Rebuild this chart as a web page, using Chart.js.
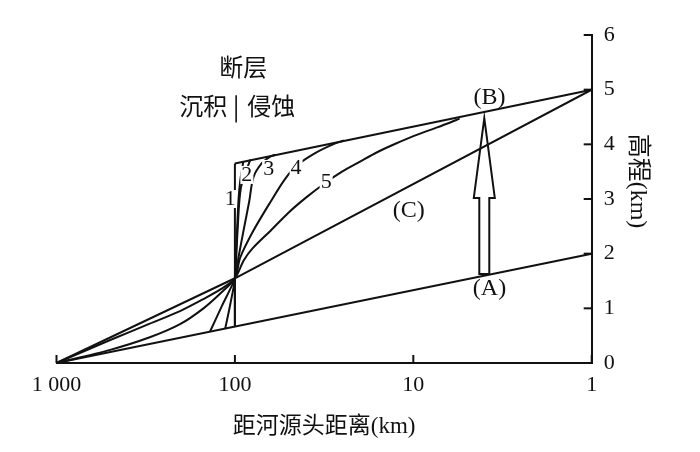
<!DOCTYPE html>
<html>
<head>
<meta charset="utf-8">
<script src="https://cdn.jsdelivr.net/npm/chart.js@4.4.1/dist/chart.umd.min.js"></script>
<style>
  html, body { margin: 0; padding: 0; background: #fff; }
  #wrap { width: 700px; height: 452px; }
</style>
</head>
<body>
<div id="wrap"><canvas id="profileChart"></canvas></div>
<script>
// axis ticks
const xTicks = [1, 10, 100, 1000];
const xTickLabels = ["1", "10", "100", "1 000"];
const yTicks = [0, 1, 2, 3, 4, 5, 6];

// distance from source (km) / elevation (km)
const lineADist = [1000, 1];
const lineAElev = [0, 2];
const lineBDist = [100, 1];
const lineBElev = [3.65, 5];
const lineCDist = [1000, 100, 1];
const lineCElev = [0, 1.55, 5];
const faultDist = [100, 100];
const faultElev = [0.67, 3.65];

const curve1Dist = [100, 100, 97.7, 95.5, 93.3, 89.8];
const curve1Elev = [0.67, 1.55, 2.3, 2.97, 3.34, 3.68];
const curve2Dist = [113.3, 106.2, 100, 96.6, 92.5, 82];
const curve2Elev = [0.63, 1.07, 1.55, 2.42, 3.21, 3.72];
const curve3Dist = [137.8, 118.4, 100, 95.5, 89.5, 83.2, 78.7, 70.8, 63.1, 59.4];
const curve3Elev = [0.577, 1.04, 1.55, 1.93, 2.42, 2.95, 3.40, 3.65, 3.78, 3.81];
const curve4Dist = [1000, 500, 300, 203, 150, 120, 100, 93.3, 79.4, 63.1, 52.5, 44.7, 35.5, 28.2, 24.5];
const curve4Elev = [0, 0.24, 0.47, 0.71, 1.0, 1.28, 1.55, 1.93, 2.40, 2.95, 3.36, 3.62, 3.84, 4.00, 4.07];
const curve5Dist = [1000, 500, 300, 203, 150, 120, 100, 89.1, 79.4, 63.1, 50.1, 39.8, 31.6, 25.1, 20, 15.85, 12.6, 10, 7.94, 6.31, 5.5];
const curve5Elev = [0, 0.42, 0.72, 0.95, 1.17, 1.35, 1.55, 1.88, 2.10, 2.42, 2.75, 3.03, 3.28, 3.50, 3.68, 3.86, 4.01, 4.15, 4.27, 4.39, 4.47];

// uplift arrow (A) -> (B)
const arrowDist = 4.0;
const arrowBase = 1.63;
const arrowHead = 3.02;
const arrowTip = 4.48;

const serif = "'Liberation Serif', 'Noto Sans CJK SC'";
const cjk = "'Noto Sans CJK SC'";

const labels = [
  { text: "断层", d: 89.8, e: 5.41, align: "center", font: "24px " + cjk },
  { text: "沉积", d: 110.5, e: 4.70, align: "right", font: "24px " + cjk },
  { text: "侵蚀", d: 85.4, e: 4.70, align: "left", font: "24px " + cjk },
  { text: "(B)", d: 3.74, e: 4.86, align: "center", font: "24px " + serif },
  { text: "(A)", d: 3.74, e: 1.35, align: "center", font: "24px " + serif },
  { text: "(C)", d: 10.6, e: 2.78, align: "center", font: "24px " + serif },
  { text: "1", d: 106.2, e: 3.0, align: "center", font: "22px " + serif, bg: true },
  { text: "2", d: 85.7, e: 3.44, align: "center", font: "22px " + serif, bg: true },
  { text: "3", d: 64.7, e: 3.55, align: "center", font: "22px " + serif, bg: true },
  { text: "4", d: 45.4, e: 3.57, align: "center", font: "22px " + serif, bg: true },
  { text: "5", d: 30.8, e: 3.31, align: "center", font: "22px " + serif, bg: true }
];
const barDist = 98.4;
const barElev = [4.90, 4.40];

function pts(ds, es) {
    return ds.map((d, i) => ({ x: d, y: es[i] }));
}

function line(ds, es, tension) {
    return {
        data: pts(ds, es),
        borderColor: "#111",
        borderWidth: 2,
        pointRadius: 0,
        tension: tension || 0,
        fill: false
    };
}

const annotate = {
    id: "annotate",
    afterDatasetsDraw(chart) {
        const { ctx, chartArea, scales: { x, y } } = chart;
        ctx.save();
        ctx.strokeStyle = "#111";
        ctx.fillStyle = "#111";
        ctx.lineWidth = 2;

        // inward tick marks
        x.ticks.forEach(t => {
            const px = x.getPixelForValue(t.value);
            ctx.beginPath();
            ctx.moveTo(px, chartArea.bottom);
            ctx.lineTo(px, chartArea.bottom - 8);
            ctx.stroke();
        });
        y.ticks.forEach(t => {
            const py = y.getPixelForValue(t.value);
            ctx.beginPath();
            ctx.moveTo(chartArea.right, py);
            ctx.lineTo(chartArea.right - 8, py);
            ctx.stroke();
        });

        // hollow arrow
        const ax = x.getPixelForValue(arrowDist);
        const yb = y.getPixelForValue(arrowBase);
        const yh = y.getPixelForValue(arrowHead);
        const yt = y.getPixelForValue(arrowTip);
        ctx.beginPath();
        ctx.moveTo(ax - 5, yb);
        ctx.lineTo(ax - 5, yh);
        ctx.lineTo(ax - 10.5, yh);
        ctx.lineTo(ax, yt);
        ctx.lineTo(ax + 10.5, yh);
        ctx.lineTo(ax + 5, yh);
        ctx.lineTo(ax + 5, yb);
        ctx.closePath();
        ctx.stroke();

        // bar between 沉积 | 侵蚀
        const bx = x.getPixelForValue(barDist);
        ctx.lineWidth = 1.6;
        ctx.beginPath();
        ctx.moveTo(bx, y.getPixelForValue(barElev[0]));
        ctx.lineTo(bx, y.getPixelForValue(barElev[1]));
        ctx.stroke();

        // text labels
        ctx.textBaseline = "middle";
        labels.forEach(l => {
            const px = x.getPixelForValue(l.d);
            const py = y.getPixelForValue(l.e);
            ctx.font = l.font;
            ctx.textAlign = l.align;
            if (l.bg) {
                const w = ctx.measureText(l.text).width;
                ctx.fillStyle = "#fff";
                ctx.fillRect(px - w / 2 - 1, py - 9, w + 2, 18);
                ctx.fillStyle = "#111";
            }
            ctx.fillText(l.text, px, py);
        });
        ctx.restore();
    }
};

new Chart(document.getElementById("profileChart"), {
    type: "line",
    data: {
        datasets: [
            line(lineADist, lineAElev),
            line(lineBDist, lineBElev),
            line(lineCDist, lineCElev),
            line(faultDist, faultElev),
            line(curve1Dist, curve1Elev, 0.2),
            line(curve2Dist, curve2Elev, 0.3),
            line(curve3Dist, curve3Elev, 0.3),
            line(curve4Dist, curve4Elev, 0.3),
            line(curve5Dist, curve5Elev, 0.3)
        ]
    },
    options: {
        responsive: true,
        maintainAspectRatio: false,
        animation: false,
        layout: { padding: { left: 56.5, top: 35, right: 0, bottom: 0 } },
        plugins: {
            legend: { display: false },
            tooltip: { enabled: false }
        },
        scales: {
            x: {
                type: "logarithmic",
                reverse: true,
                min: 1,
                max: 1000,
                afterBuildTicks: s => { s.ticks = xTicks.map(v => ({ value: v })); },
                afterFit: s => { s.height = 89; },
                grid: { display: false, drawTicks: false },
                border: { display: true, color: "#111", width: 2 },
                ticks: {
                    autoSkip: false,
                    maxRotation: 0,
                    padding: 9,
                    color: "#111",
                    font: { family: serif, size: 22 },
                    callback: (v, i) => xTickLabels[i]
                },
                title: {
                    display: true,
                    text: "距河源头距离(km)",
                    color: "#111",
                    font: { family: serif, size: 23 },
                    padding: { top: 0, bottom: 11 }
                }
            },
            y: {
                type: "linear",
                position: "right",
                min: 0,
                max: 6,
                afterBuildTicks: s => { s.ticks = yTicks.map(v => ({ value: v })); },
                afterFit: s => { s.width = 108.3; },
                grid: { display: false, drawTicks: false },
                border: { display: true, color: "#111", width: 2 },
                ticks: {
                    padding: 12,
                    color: "#111",
                    font: { family: serif, size: 22 },
                    callback: v => String(v)
                },
                title: {
                    display: true,
                    text: "高程(km)      ",
                    color: "#111",
                    font: { family: serif, size: 24 },
                    padding: { top: 48, bottom: 0 }
                }
            }
        }
    },
    plugins: [annotate]
});
</script>
</body>
</html>
